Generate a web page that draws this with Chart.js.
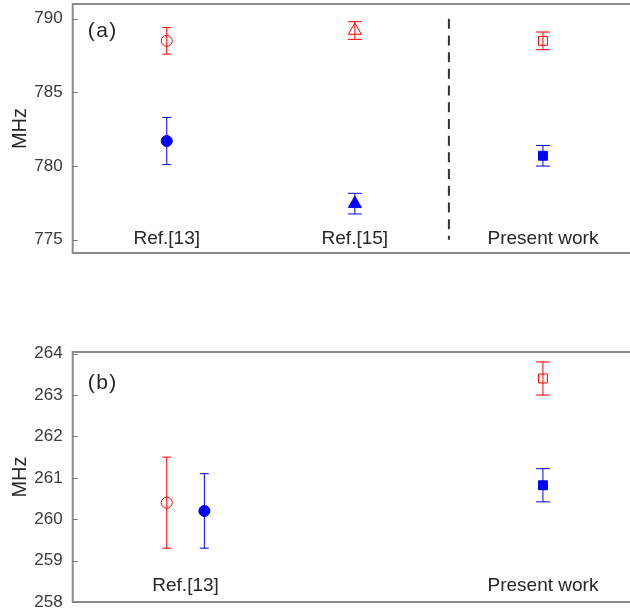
<!DOCTYPE html>
<html>
<head>
<meta charset="utf-8">
<script src="https://cdn.jsdelivr.net/npm/chart.js@4"></script>
<style>
  html, body { margin: 0; padding: 0; background: #fff; width: 630px; height: 613px; overflow: hidden; }
  canvas { position: absolute; left: 0; }
  #top { top: -26px; }
  #bottom { top: 321.7px; }
</style>
</head>
<body>
<canvas id="top" width="700" height="309"></canvas>
<canvas id="bottom" width="700" height="310"></canvas>
<script>
// panel (a)
const topCategories = ["Ref.[13]", "Ref.[15]", "Present work"];
const topLabelX = [1, 2, 3];
const topX = [1, 2, 3];
const topRed = [788.5, 789.2, 788.5];
const topRedErr = [0.9, 0.6, 0.6];
const topBlue = [781.7, 777.45, 780.7];
const topBlueErr = [1.6, 0.7, 0.7];
const topShapes = ["circle", "triangle", "rect"];
const topTicks = [775, 780, 785, 790];
const topDivider = 2.5;

// panel (b)
const bottomCategories = ["Ref.[13]", "Present work"];
const bottomLabelX = [1.1, 3];
const bottomRedX = [1, 3];
const bottomRed = [260.4, 263.4];
const bottomRedErr = [1.1, 0.4];
const bottomBlueX = [1.2, 3];
const bottomBlue = [260.2, 260.82];
const bottomBlueErr = [0.9, 0.4];
const bottomShapes = ["circle", "rect"];
const bottomTicks = [258, 259, 260, 261, 262, 263, 264];

const RED = "#ff0000";
const BLUE = "#0000ff";
const FONT = "'Liberation Sans', Arial, sans-serif";
const radiusFor = { circle: 5.5, triangle: 7.5, rect: 6.3 };

const toPoints = (xs, ys) => xs.map((x, i) => ({ x, y: ys[i] }));

const series = (xs, ys, errs, shapes, color, filled) => ({
  data: toPoints(xs, ys),
  errors: errs,
  pointStyle: shapes,
  pointRadius: shapes.map((s) => radiusFor[s]),
  borderColor: color,
  backgroundColor: filled ? color : "rgba(0,0,0,0)",
  pointBorderWidth: 1,
  showLine: false,
});

// error bars, box, inside ticks, divider and category labels
const decor = {
  id: "decor",
  beforeDatasetsDraw(chart, args, opts) {
    const { ctx, chartArea: a, scales } = chart;
    const x = scales.x, y = scales.y;
    ctx.save();

    // box
    ctx.strokeStyle = "#8c8c8c";
    ctx.lineWidth = 2;
    ctx.strokeRect(a.left, a.top, a.right - a.left, a.bottom - a.top);

    // inside tick marks
    ctx.lineWidth = 1;
    ctx.strokeStyle = "#777";
    opts.ticks.forEach((v) => {
      const py = Math.round(y.getPixelForValue(v)) + 0.5;
      ctx.beginPath();
      ctx.moveTo(a.left, py);
      ctx.lineTo(a.left + 5, py);
      ctx.stroke();
    });

    // dashed divider
    if (opts.divider) {
      const px = x.getPixelForValue(opts.divider);
      ctx.strokeStyle = "#333";
      ctx.lineWidth = 2;
      ctx.setLineDash([10, 6.7]);
      ctx.beginPath();
      ctx.moveTo(px, y.getPixelForValue(opts.ticks[opts.ticks.length - 1]));
      ctx.lineTo(px, y.getPixelForValue(opts.ticks[0]));
      ctx.stroke();
      ctx.setLineDash([]);
    }

    // error bars
    ctx.lineWidth = 1;
    chart.data.datasets.forEach((ds) => {
      ctx.strokeStyle = ds.borderColor;
      ds.data.forEach((p, i) => {
        const px = x.getPixelForValue(p.x);
        const hi = y.getPixelForValue(p.y + ds.errors[i]);
        const lo = y.getPixelForValue(p.y - ds.errors[i]);
        const cap = ds.pointStyle[i] === "circle" ? 4.5 : 7;
        ctx.beginPath();
        ctx.moveTo(px, hi);
        ctx.lineTo(px, lo);
        ctx.moveTo(px - cap, hi);
        ctx.lineTo(px + cap, hi);
        ctx.moveTo(px - cap, lo);
        ctx.lineTo(px + cap, lo);
        ctx.stroke();
      });
    });

    // category labels
    ctx.fillStyle = "#262626";
    ctx.font = "19px " + FONT;
    ctx.textAlign = "center";
    ctx.textBaseline = "alphabetic";
    opts.labels.forEach((t, i) => {
      ctx.fillText(t, x.getPixelForValue(opts.labelX[i]), a.bottom - opts.labelLift);
    });

    // panel tag
    ctx.font = "21px " + FONT;
    ctx.textAlign = "left";
    ctx.textBaseline = "middle";
    if ("letterSpacing" in ctx) ctx.letterSpacing = "1.5px";
    ctx.fillText(opts.tag, a.left + 15, a.top + opts.tagDrop);
    ctx.restore();
  },
};

const makePanel = (id, datasets, cfg) => {
  return new Chart(document.getElementById(id), {
    type: "scatter",
    data: { datasets },
    options: {
      responsive: false,
      animation: false,
      events: [],
      layout: { autoPadding: false, padding: cfg.padding },
      plugins: {
        legend: { display: false },
        tooltip: { enabled: false },
        decor: cfg.decor,
      },
      scales: {
        x: { type: "linear", min: 0.5, max: 3.5, display: false },
        y: {
          min: cfg.min,
          max: cfg.max,
          afterFit: (s) => { s.width = 72.7; },
          afterBuildTicks: (s) => { s.ticks = cfg.decor.ticks.map((v) => ({ value: v })); },
          ticks: { padding: 2, color: "#3a3a3a", font: { family: FONT, size: 17 } },
          grid: { display: false },
          border: { display: false },
          title: {
            display: true,
            text: "MHz",
            color: "#262626",
            font: { family: FONT, size: 20 },
            padding: { top: 8, bottom: 0 },
          },
        },
      },
    },
    plugins: [decor],
  });
};

makePanel(
  "top",
  [
    series(topX, topRed, topRedErr, topShapes, RED, false),
    series(topX, topBlue, topBlueErr, topShapes, BLUE, true),
  ],
  {
    min: 774.1,
    max: 791,
    padding: { left: 0, top: 30, right: 63, bottom: 30 },
    decor: {
      ticks: topTicks,
      labels: topCategories,
      labelX: topLabelX,
      divider: topDivider,
      labelLift: 9,
      tag: "(a)",
      tagDrop: 27,
    },
  }
);

makePanel(
  "bottom",
  [
    series(bottomRedX, bottomRed, bottomRedErr, bottomShapes, RED, false),
    series(bottomBlueX, bottomBlue, bottomBlueErr, bottomShapes, BLUE, true),
  ],
  {
    min: 258,
    max: 264.04,
    padding: { left: 0, top: 30, right: 63, bottom: 30 },
    decor: {
      ticks: bottomTicks,
      labels: bottomCategories,
      labelX: bottomLabelX,
      divider: null,
      labelLift: 11,
      tag: "(b)",
      tagDrop: 31,
    },
  }
);
</script>
</body>
</html>
